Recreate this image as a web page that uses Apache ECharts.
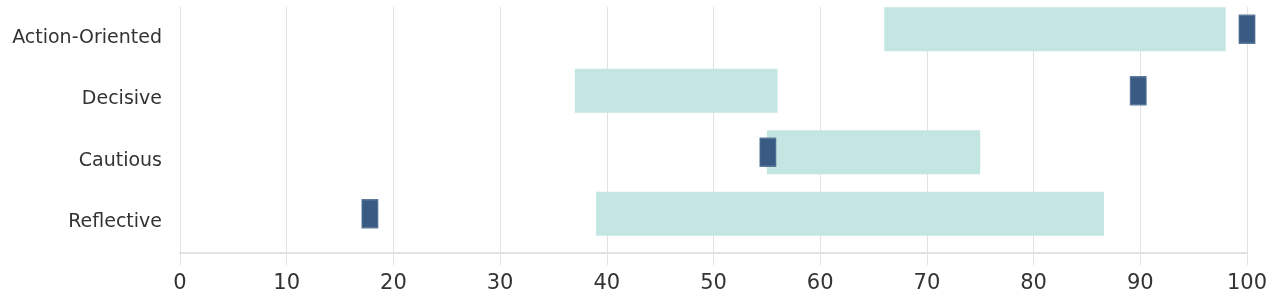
<!DOCTYPE html>
<html>
<head>
<meta charset="utf-8">
<script src="https://cdn.jsdelivr.net/npm/echarts@6/dist/echarts.min.js"></script>
<style>html,body{margin:0;padding:0;background:#fff}#c{width:1280px;height:302px}</style>
</head>
<body>
<div id="c"></div>
<script>
const categories = ['Action-Oriented', 'Decisive', 'Cautious', 'Reflective'];
const rangeStart = [66, 37, 55, 39];
const rangeEnd = [98, 56, 75, 86.6];
const markerValues = [100, 89.8, 55.1, 17.8];
const xTicks = [0, 10, 20, 30, 40, 50, 60, 70, 80, 90, 100];

const chart = echarts.init(document.getElementById('c'), null, {renderer: 'canvas'});
const font = '"DejaVu Sans", sans-serif';
chart.setOption({
  animation: false,
  grid: {left: 180, right: 33, top: 7, bottom: 49, containLabel: false},
  xAxis: {
    type: 'value', min: xTicks[0], max: xTicks[xTicks.length - 1], interval: 10,
    axisLine: {show: true, lineStyle: {color: '#e2e2e2', width: 2}},
    axisTick: {show: true, length: 12, lineStyle: {color: '#e2e2e2'}},
    splitLine: {show: true, lineStyle: {color: '#e2e2e2', width: 1}},
    axisLabel: {color: '#333', fontSize: 21, fontFamily: font, margin: 20}
  },
  yAxis: {
    type: 'category', data: categories, inverse: true,
    axisLine: {show: true, lineStyle: {color: '#e2e2e2', width: 1}},
    axisTick: {show: false},
    axisLabel: {color: '#333', fontSize: 19, fontFamily: font, margin: 18}
  },
  series: [
    {type: 'bar', stack: 'r', barWidth: 44, barGap: '0%', silent: true,
     itemStyle: {color: 'transparent'}, data: rangeStart},
    {type: 'bar', stack: 'r', barWidth: 44,
     itemStyle: {color: '#c3e6e2'},
     data: rangeEnd.map((v, i) => v - rangeStart[i])},
    {type: 'bar', barWidth: 17, silent: true, itemStyle: {color: 'transparent'},
     data: categories.map(() => 0)},
    {type: 'scatter', symbol: 'rect', symbolSize: [16, 28], symbolOffset: [0, -8.5], z: 5,
     itemStyle: {color: '#395a82', borderColor: '#5b7899', borderWidth: 1, opacity: 1},
     data: markerValues.map((v, i) => [v, i])}
  ]
});
</script>
</body>
</html>
